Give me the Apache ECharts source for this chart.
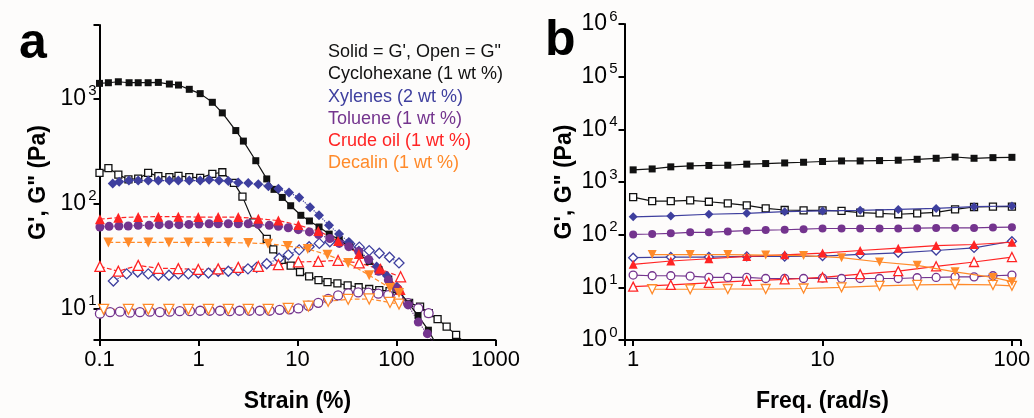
<!DOCTYPE html>
<html><head><meta charset="utf-8">
<script src="https://cdn.jsdelivr.net/npm/echarts@6/dist/echarts.min.js"></script>
<style>html,body{margin:0;padding:0;background:#fdfcfb}#c{width:1034px;height:418px}</style>
</head><body><div id="c"></div>
<script>
// ---------- Panel a : strain sweep  [strain %, modulus Pa] ----------
const cycloStorA = [[0.1,1390],[0.123,1410],[0.155,1440],[0.199,1410],[0.246,1410],[0.31,1410],[0.393,1420],[0.508,1370],[0.628,1340],[0.807,1220],[1.04,1110],[1.38,918],[1.74,728],[2.38,494],[2.84,392],[3.79,255],[4.89,171],[5.79,136],[7.02,114],[8.53,95],[10.8,77],[13.2,68],[16.5,59.6],[20.9,51],[26.4,45],[33.6,38.7],[42.4,32.6],[53,28],[66.4,23.5],[83.6,19],[106,14.6],[133,11.1],[165,8.55],[210,6.2],[250,4.6]];
const cycloLossA = [[0.1,195],[0.123,217],[0.155,188],[0.196,169],[0.246,172],[0.31,195],[0.393,182],[0.508,178],[0.628,183],[0.807,178],[1.04,175],[1.38,191],[1.74,198],[2.28,157],[2.78,116],[3.58,66],[4.89,46],[5.69,36.5],[6.91,29],[8.53,25.5],[10.6,22.2],[13.1,20.2],[16.3,18.6],[20.1,17.8],[25.3,17.3],[32.1,16.6],[41.5,15.9],[53,15.3],[67,14.9],[85,14.6],[106,13.8],[134,11.3],[173,10.4],[212,9.0],[260,7.9],[321,6.7],[400,5.6],[490,4.7]];
const xylStorA = [[0.136,155],[0.158,161],[0.198,165],[0.246,165],[0.311,165],[0.393,165],[0.507,165],[0.625,165],[0.807,165],[1.04,165],[1.28,168],[1.61,165],[2.0,163],[2.52,158],[3.18,156],[4.02,152],[5.08,146],[6.41,138],[8.21,127],[10.4,114],[13.4,92],[16.5,77],[20.8,62],[26.3,51],[33,43],[41.7,35.5],[52.5,29.3],[63,25.1],[80,20.5],[101,16.1]];
const xylLossA = [[0.138,18.2],[0.188,21.3],[0.243,22.2],[0.311,21.3],[0.393,20.7],[0.503,20.7],[0.625,21.3],[0.79,21.3],[0.995,21.7],[1.26,21.7],[1.58,22.6],[2.0,22.6],[2.52,22.9],[3.16,23.8],[3.87,24.6],[4.89,26.6],[6.52,30],[8.07,32.4],[10.4,36.1],[13.1,38.7],[16.6,41.6],[21.2,43.1],[26.5,43.1],[33.6,41.3],[42.1,38.3],[53,35.5],[67,33.5],[85,30.7],[106,27.1]];
const toluStorA = [[0.101,59.6],[0.125,60.5],[0.157,60.9],[0.195,60.9],[0.246,61.8],[0.317,61.8],[0.4,62.7],[0.503,62.7],[0.635,62.7],[0.8,63.1],[1.01,63.5],[1.28,64],[1.58,64],[2.0,64],[2.52,64],[3.18,64],[4.02,63.1],[5.19,61.8],[6.41,60.6],[8.07,58.6],[10.2,56.2],[13.2,53.5],[16.3,50.5],[21.2,46.3],[26.4,41.6],[33,38.7],[41.5,34.8],[52.2,29.2],[66,22.6],[82.7,18.6],[101,15.5],[131,10.8],[166,7.4],[205,5.75],[236,4.7]];
const toluLossA = [[0.101,8.9],[0.128,9.2],[0.161,9.3],[0.203,9.1],[0.256,9.2],[0.323,9.3],[0.407,9.2],[0.513,9.3],[0.646,9.4],[0.82,9.4],[1.04,9.5],[1.3,9.5],[1.65,9.5],[2.07,9.4],[2.6,9.5],[3.28,9.5],[4.16,9.5],[5.24,9.5],[6.6,9.7],[8.3,9.8],[10.2,10],[12.9,10.6],[16.2,11.3],[20.4,12.3],[25.7,13.3],[32.5,13.9],[41,14.2],[52,14.1],[65.5,13.8],[82.5,13.4],[104,12.7],[131,11.2],[166,10],[211,9]];
const crudeStorA = [[0.101,70.8],[0.155,73.1],[0.246,74.4],[0.393,74.7],[0.625,74.7],[0.995,74],[1.58,74],[2.52,74],[4.02,71.6],[6.41,68.6],[10.2,62.2],[16.2,54.7],[25.7,43.9],[41.7,33],[67.8,23.8],[110,15]];
const crudeLossA = [[0.101,25.1],[0.155,22.6],[0.246,25.7],[0.393,24.1],[0.625,23.9],[0.995,23.5],[1.58,23.8],[2.52,24.6],[4.02,25.1],[6.41,26.1],[10.2,27.7],[16.2,28],[25.7,28.6],[42,27.1],[69,23.5],[110,20]];
const decStorA = [[0.123,42.5],[0.196,42.5],[0.311,42.5],[0.502,42.5],[0.79,42.5],[1.26,42.5],[2.0,42.5],[3.18,41.9],[5.04,41.3],[7.94,39.3],[12.7,36.8],[20.1,32.4],[32.5,27],[53,20.7],[86,15.6],[106,14]];
const decLossA = [[0.11,9.8],[0.196,9.8],[0.311,9.8],[0.502,9.8],[0.79,9.8],[1.26,9.8],[2.0,9.8],[3.18,9.8],[5.06,9.8],[8.07,10],[12.9,10.5],[20.4,11.7],[32.5,12.2],[53,12.3],[86,11.4],[106,11]];

// ---------- Panel b : frequency sweep ----------
const freqB = [1,1.26,1.58,2,2.51,3.16,3.98,5.01,6.31,7.94,10,12.6,15.8,20,25.1,31.6,39.8,50.1,63.1,79.4,100];
const cycloStorB = [1700,1770,1940,2020,2060,2080,2180,2240,2300,2370,2450,2510,2510,2550,2590,2700,2820,2980,2820,2900,2940];
const cycloLossB = [516,434,434,446,422,392,359,315,294,290,290,282,262,254,244,254,265,302,335,340,340];
const xylStorB = [218,null,227,null,244,null,254,null,273,null,282,null,290,null,302,null,315,null,340,null,350];
const xylLossB = [36.5,null,37.6,null,37.6,null,38.7,null,38.5,null,39.3,null,42.3,null,45.3,null,50.1,null,56.1,null,75];
const toluStorB = [101,103,106,111,111,115,119,122,124,127,131,131,131,131,131,133,134,134,134,137,139];
const toluLossB = [17.1,16.6,16.6,16.3,15.4,15.4,15.4,14.7,14.7,14.7,15,14.7,14.7,14.7,14.7,15.2,15.4,15.8,15.8,16.6,17.1];
const crudeStorB = [27.4,null,31.6,null,34.9,null,38.7,null,41.5,null,44.7,null,50.1,null,55.4,null,62.2,null,65,null,71.8];
const crudeLossB = [10.3,null,11.1,null,12.2,null,13.3,null,14.1,null,15.5,null,17.8,null,20.3,null,25.1,null,30.3,null,37.6];
const decStorB = [null,41.9,null,41.9,null,41.9,null,40.9,null,40.1,null,36.5,null,30.3,null,26.2,null,19.7,null,15.4,12.8];
const decLossB = [null,9.2,null,9.2,null,9.3,null,9.3,null,9.5,null,10,null,10.7,null,11.1,null,11.4,null,11.1,10.7];

const legendLines = ['Solid = G\', Open = G"','Cyclohexane (1 wt %)','Xylenes (2 wt %)','Toluene (1 wt %)','Crude oil (1 wt %)','Decalin (1 wt %)'];

const C = {k:'#111111', blue:'#3e3f9e', purple:'#74348e', red:'#ff2424', orange:'#ff8a2a'};
const legendColors = [C.k, C.k, C.blue, C.purple, C.red, C.orange];
const FONT = '"Liberation Sans", Arial, sans-serif';

function isPow(v){ const e = Math.log10(v); return Math.abs(e - Math.round(e)) < 1e-6; }
function powLabel(v){ if(!isPow(v)) return ''; return '{b|10}{s|' + Math.round(Math.log10(v)) + '}'; }
function plainLabel(v){ if(!isPow(v)) return ''; return String(Number(v.toPrecision(6))); }

function axisBase(){
  return {
    type:'log', logBase:10,
    axisLine:{show:true, onZero:false, lineStyle:{color:'#000', width:2}},
    axisTick:{show:true, length:6, inside:false, lineStyle:{color:'#000', width:2}},
    splitLine:{show:false}, minorTick:{show:false},
    nameTextStyle:{fontFamily:FONT, fontSize:23, fontWeight:'bold', color:'#000'}
  };
}
function xAx(gi, min, max, name){
  return Object.assign(axisBase(), {gridIndex:gi, min, max, name, nameLocation:'middle', nameGap:50,
    axisLabel:{formatter:plainLabel, fontFamily:FONT, fontSize:22, color:'#000', margin:9, showMinLabel:true, showMaxLabel:true}});
}
function yAx(gi, min, max, name, margin, nameGap){
  return Object.assign(axisBase(), {gridIndex:gi, min, max, name, nameLocation:'middle', nameGap,
    axisLabel:{formatter:powLabel, color:'#000', margin, showMinLabel:true, showMaxLabel:true,
      rich:{b:{fontFamily:FONT, fontSize:23, color:'#000'}, s:{fontFamily:FONT, fontSize:15, color:'#000', padding:[0,0,15,2]}}}});
}
function S(data, gi, sym, color, filled, size, lt, rot){
  return {type:'line', xAxisIndex:gi, yAxisIndex:gi, data, symbol:sym, symbolSize:size, symbolRotate:rot||0,
    showSymbol:true, showAllSymbol:true, connectNulls:true, clip:true, animation:false, silent:true,
    lineStyle:{color, width:1.2, type:lt},
    itemStyle:{color: filled ? color : '#ffffff', borderColor:color, borderWidth: filled ? 0 : 1.3, opacity:1},
    z: filled ? 3 : 2};
}
function B(arr){ return freqB.map((f,i)=>[f, arr[i]]).filter(p => p[1] != null); }

const series = [
  S(cycloLossA,0,'rect',C.k,false,7,'solid'),
  S(cycloStorA,0,'rect',C.k,true,7,'solid'),
  S(xylLossA,0,'diamond',C.blue,false,10,'dotted'),
  S(xylStorA,0,'diamond',C.blue,true,10,'dotted'),
  S(toluLossA,0,'circle',C.purple,false,9,'dotted'),
  S(toluStorA,0,'circle',C.purple,true,9,'dotted'),
  S(crudeLossA,0,'triangle',C.red,false,10,'dashed'),
  S(crudeStorA,0,'triangle',C.red,true,10,'dashed'),
  S(decLossA,0,'triangle',C.orange,false,10,'dashed',180),
  S(decStorA,0,'triangle',C.orange,true,10,'dashed',180),

  S(B(cycloStorB),1,'rect',C.k,true,7,'solid'),
  S(B(cycloLossB),1,'rect',C.k,false,7,'solid'),
  S(B(xylStorB),1,'diamond',C.blue,true,9,'solid'),
  S(B(xylLossB),1,'diamond',C.blue,false,9,'solid'),
  S(B(toluStorB),1,'circle',C.purple,true,8,'solid'),
  S(B(toluLossB),1,'circle',C.purple,false,8,'solid'),
  S(B(crudeStorB),1,'triangle',C.red,true,9,'solid'),
  S(B(crudeLossB),1,'triangle',C.red,false,9,'solid'),
  S(B(decStorB),1,'triangle',C.orange,true,9,'solid',180),
  S(B(decLossB),1,'triangle',C.orange,false,9,'solid',180)
];

const legendY = [52, 74.5, 97, 119, 141, 163];
const graphic = legendLines.map((t,i)=>({type:'text', x:328, y:legendY[i], silent:true,
  style:{text:t, fill:legendColors[i], font:'18px "Liberation Sans", Arial, sans-serif', verticalAlign:'middle', align:'left'}}));
graphic.push({type:'text', x:19, y:44, style:{text:'a', fill:'#000', font:'bold 50px "Liberation Sans", Arial, sans-serif', verticalAlign:'middle', align:'left'}});
graphic.push({type:'text', x:545, y:41, style:{text:'b', fill:'#000', font:'bold 50px "Liberation Sans", Arial, sans-serif', verticalAlign:'middle', align:'left'}});

const chart = echarts.init(document.getElementById('c'), null, {renderer:'canvas'});
chart.setOption({
  backgroundColor:'#fdfcfb',
  animation:false,
  grid:[
    {left:99.5, top:25, width:396, height:320, containLabel:false},
    {left:624.5, top:24, width:396, height:320, containLabel:false}
  ],
  xAxis:[ xAx(0, 0.1, 1000, 'Strain (%)'), xAx(1, 0.9, 111, 'Freq. (rad/s)') ],
  yAxis:[ yAx(0, 5, 5000, 'G\', G" (Pa)', 3, 49), yAx(1, 1, 1000000, 'G\', G" (Pa)', 7, 48) ],
  series,
  graphic
});
</script></body></html>
